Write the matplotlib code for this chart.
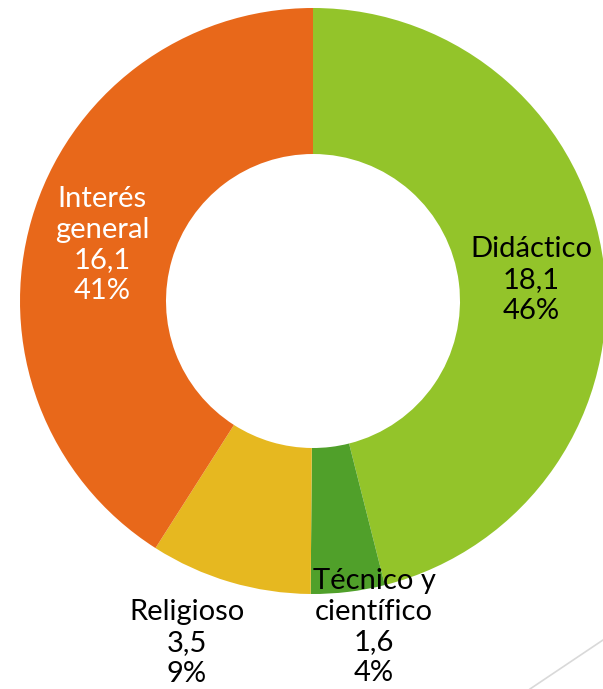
import numpy as np
import matplotlib.pyplot as plt
from matplotlib.lines import Line2D

# ============================================================
# Data
# ============================================================
categories = ["Didáctico", "Técnico y\ncientífico", "Religioso", "Interés\ngeneral"]
values     = [18.1, 1.6, 3.5, 16.1]
colors     = ["#93C42A", "#50A02A", "#E6B820", "#E8681A"]
text_cols  = ["black", "black", "black", "white"]

# label positions (pixels from top-left) for each block of text
label_xy = [(531, 280), (374, 627), (187, 643), (102, 245)]

W, H = 603, 689
cx, cy, R, r_in = 313, 301, 293, 147

plt.rcParams['font.family'] = ['Lato', 'DejaVu Sans']

fig = plt.figure(figsize=(W / 100, H / 100), dpi=100)
ax = fig.add_axes([0, 0, 1, 1])

ax.pie(values, colors=colors, startangle=90, counterclock=False,
       center=(cx, H - cy), radius=R,
       wedgeprops=dict(width=R - r_in, linewidth=0), frame=True)
ax.set_xlim(0, W)
ax.set_ylim(0, H)
ax.set_aspect('equal')
ax.axis('off')

total = sum(values)
for cat, v, tc, (x, y) in zip(categories, values, text_cols, label_xy):
    txt = f"{cat}\n{str(v).replace('.', ',')}\n{round(v / total * 100):.0f}%"
    ax.text(x, H - y, txt, ha='center', va='center', color=tc,
            fontsize=21, linespacing=1.22)

# faint decorative line at the bottom right
fig.add_artist(Line2D([530 / W, 1.0], [0.0, 49 / H], transform=fig.transFigure,
                      color='#D9D9D9', lw=1.2))

fig.savefig("out.png", dpi=100)
